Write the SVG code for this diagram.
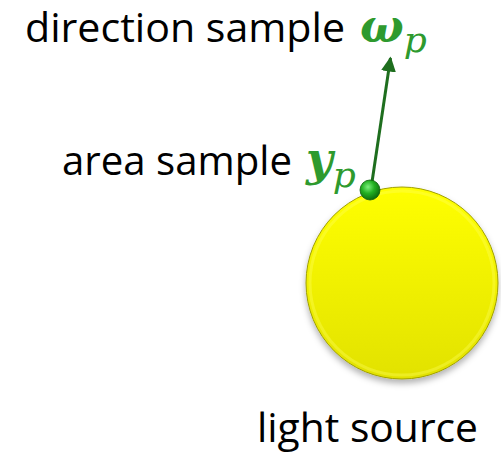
<svg xmlns="http://www.w3.org/2000/svg" width="501" height="457" viewBox="0 0 501 457">
<style>
.lbl{font-family:"Open Sans","Noto Sans",sans-serif;font-size:40px;fill:#000}
.math{font-family:"DejaVu Serif","Liberation Serif",serif;font-style:italic;fill:#2e9a2e}
.big{font-size:46px;font-weight:bold}
.sub{font-size:36px}
</style>
<defs>
<linearGradient id="sunv" x1="0" y1="0" x2="0" y2="1">
<stop offset="0" stop-color="#ffff00"/>
<stop offset="1" stop-color="#e2e200"/>
</linearGradient>
<radialGradient id="dot" cx="0.4" cy="0.35" r="0.65">
<stop offset="0" stop-color="#7ef07e"/>
<stop offset="0.5" stop-color="#22b022"/>
<stop offset="1" stop-color="#0e6e0e"/>
</radialGradient>
<filter id="shadow" x="-20%" y="-20%" width="140%" height="140%">
<feGaussianBlur in="SourceAlpha" stdDeviation="3"/>
<feOffset dx="0" dy="4" result="b"/>
<feFlood flood-color="#000" flood-opacity="0.3"/>
<feComposite in2="b" operator="in"/>
<feMerge><feMergeNode/><feMergeNode in="SourceGraphic"/></feMerge>
</filter>
<marker id="arrow" viewBox="0 0 10 10" refX="9" refY="5" markerWidth="5" markerHeight="5" orient="auto" markerUnits="strokeWidth">
<path d="M0,0 L10,5 L0,10 z" fill="#1e6e1e"/>
</marker>
</defs>

<g id="light-source">
<circle cx="402" cy="283" r="96" fill="url(#sunv)" stroke="#a0a000" stroke-width="1" filter="url(#shadow)"/>
<circle cx="402" cy="283" r="92" fill="none" stroke="#ffff60" stroke-width="3" opacity="0.35"/>
<text class="lbl" x="257" y="442" textLength="221" lengthAdjust="spacingAndGlyphs">light source</text>
</g>

<g id="connectors">
<line x1="372" y1="182" x2="390.5" y2="58" stroke="#1e6e1e" stroke-width="3" marker-end="url(#arrow)"/>
</g>

<g id="area-sample">
<circle cx="370" cy="190" r="10" fill="url(#dot)" stroke="#0e600e" stroke-width="0.8"/>
<text class="lbl" x="62" y="175" textLength="230" lengthAdjust="spacingAndGlyphs">area sample</text>
<text class="math" x="306" y="175"><tspan class="big">y</tspan><tspan class="sub" dy="12">p</tspan></text>
</g>

<g id="direction-sample">
<text class="lbl" x="25" y="42" textLength="320" lengthAdjust="spacingAndGlyphs">direction sample</text>
<text class="math" x="360" y="42"><tspan class="big">ω</tspan><tspan class="sub" dy="10">p</tspan></text>
</g>
</svg>
